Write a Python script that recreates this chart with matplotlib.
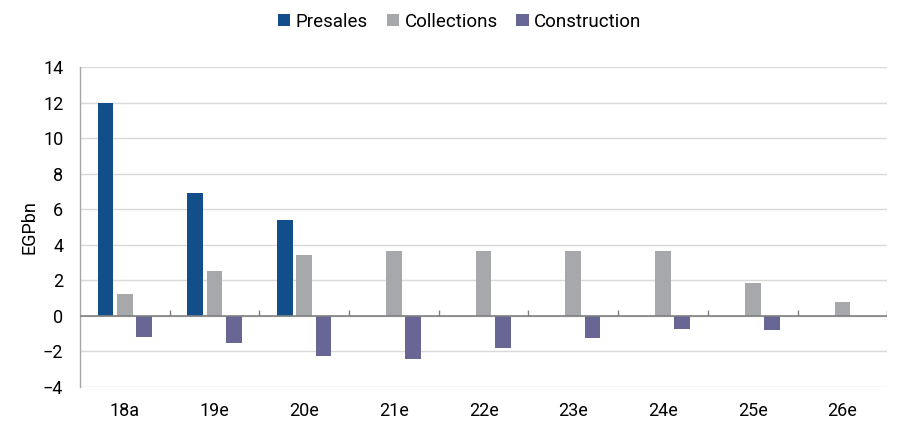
import matplotlib
matplotlib.use("Agg")
import matplotlib.pyplot as plt
import numpy as np

plt.rcParams['font.family'] = ['Roboto', 'DejaVu Sans']

categories = ["18a", "19e", "20e", "21e", "22e", "23e", "24e", "25e", "26e"]
presales = [12.0, 6.9, 5.4, 0, 0, 0, 0, 0, 0]
collections = [1.2, 2.5, 3.4, 3.65, 3.65, 3.65, 3.65, 1.85, 0.8]
construction = [-1.22, -1.52, -2.25, -2.43, -1.82, -1.24, -0.75, -0.8, 0]
series_names = ["Presales", "Collections", "Construction"]
colors = ["#114E8A", "#A7A8AB", "#686694"]

fig = plt.figure(figsize=(8.98, 4.21), dpi=100)
ax = fig.add_axes([0.089, 0.0815, 0.899, 0.7585])

x = np.arange(len(categories))
w = 0.175
offsets = [-0.215, 0.0, 0.215]
for vals, off, col, name in zip([presales, collections, construction], offsets, colors, series_names):
    ax.bar(x + off, vals, width=w, color=col, label=name, edgecolor="none", zorder=3)

ax.set_ylim(-4, 14)
ax.set_yticks(np.arange(-4, 15, 2))
ax.set_xlim(-0.5, len(categories) - 0.5)
ax.set_xticks(x)
ax.set_xticklabels(categories)
ax.grid(axis='y', color="#D9D9D9", linewidth=1, zorder=0)
for s in ax.spines.values():
    s.set_visible(False)
ax.spines['left'].set_visible(True)
ax.spines['left'].set_color("#A6A6A6")
ax.spines['left'].set_linewidth(1)
ax.tick_params(axis='both', length=0, labelsize=13, colors="#000000")
ax.tick_params(axis='x', pad=11)
ax.tick_params(axis='y', pad=12)

ax.axhline(0, color="#808080", linewidth=1.2, zorder=4)
ax.vlines(x[:-1] + 0.5, 0, 0.3, color="#808080", linewidth=1, zorder=4)
ax.vlines([len(categories) - 0.5], 0, 0.3, color="#808080", linewidth=1, zorder=4)

ax.set_ylabel("EGPbn", fontsize=13, labelpad=3)

handles, labels = ax.get_legend_handles_labels()
fig.legend(handles, labels, loc='upper center', bbox_to_anchor=(0.512, 1.01), ncol=3,
           frameon=False, fontsize=13.5, handlelength=0.65, handleheight=0.65,
           handletextpad=0.3, columnspacing=1.0)

fig.savefig("out.png", dpi=100)
